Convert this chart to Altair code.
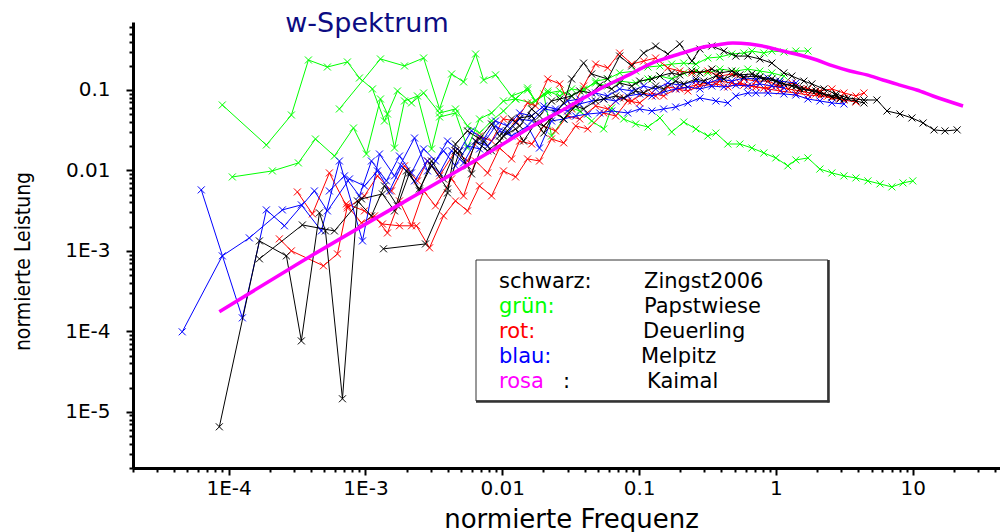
import altair as alt
import pandas as pd

# ---------------- data (normierte Frequenz, normierte Leistung) -------------
kaimal_f = [8.55e-5, 2.78e-4, 9.56e-3, 0.0167, 0.0295, 0.0515, 0.0898, 0.1196, 0.159, 0.2085, 0.278,
            0.3695, 0.484, 0.644, 0.858, 1.123, 1.496, 1.992, 2.608, 3.472, 4.62, 6.05, 8.06, 10.7, 14.05, 23.3]
kaimal_p = [1.75e-4, 5.97e-4, 0.0201, 0.0357, 0.0598, 0.103, 0.163, 0.210, 0.250, 0.288, 0.334,
            0.363, 0.385, 0.373, 0.343, 0.305, 0.272, 0.236, 0.199, 0.172, 0.154, 0.133, 0.115, 0.100, 0.0842, 0.0633]

# Zingst2006 (black)
b1_f = [8.55e-5, 1.678e-4, 2.643e-4, 3.40e-4, 4.61e-4, 5.10e-4, 6.79e-4, 8.74e-4, 1.106e-3, 1.377e-3, 1.714e-3, 2.099e-3,
        2.48e-3, 3.04e-3, 3.72e-3, 4.55e-3, 5.57e-3, 6.38e-3, 7.81e-3, 9.56e-3, 0.0109, 0.0134, 0.0164, 0.0201, 0.0229,
        0.0281, 0.0321, 0.0393, 0.0450, 0.0589, 0.0721, 0.0883, 0.108, 0.132, 0.162, 0.198, 0.243, 0.278, 0.340, 0.416,
        0.509, 0.623, 0.763, 0.934, 1.143, 1.307, 1.600, 1.831, 2.241, 2.743, 3.357, 4.396,
        5.47, 6.48, 8.06, 9.86, 11.9, 14.3, 17.2, 21.1]
b1_p = [6.5e-6, 1.33e-3, 8.67e-4, 7.6e-5, 2.97e-3, 1.77e-3, 1.45e-5, 4.18e-3, 2.72e-3, 6.42e-3, 3.62e-3, 9.31e-3,
        5.56e-3, 0.0131, 7.84e-3, 0.0175, 0.0114, 0.0232, 0.0175, 0.0232, 0.031, 0.0449, 0.0475, 0.0292, 0.0449,
        0.069, 0.137, 0.216, 0.158, 0.137, 0.264, 0.199, 0.288, 0.352, 0.280, 0.373, 0.229, 0.323, 0.352, 0.305,
        0.264, 0.264, 0.243, 0.216, 0.163, 0.149, 0.129, 0.119, 0.103, 0.0892, 0.0796, 0.0751,
        0.0751, 0.0548, 0.0503, 0.0449, 0.0389, 0.0319, 0.031, 0.0319]

b2_f = [1.678e-4, 3.46e-4, 5.93e-4, 9.35e-4, 1.331e-3, 1.630e-3, 1.995e-3,
        2.48e-3, 3.04e-3, 3.98e-3, 4.87e-3, 5.96e-3, 7.30e-3, 8.35e-3, 0.0102, 0.0125, 0.0143, 0.0175, 0.0201, 0.0245,
        0.0281, 0.0344, 0.0393, 0.0481, 0.0551, 0.0674, 0.0772, 0.0944, 0.108, 0.132, 0.151, 0.185, 0.212, 0.260, 0.297,
        0.364, 0.416, 0.509, 0.583, 0.713, 0.816, 0.998, 1.143, 1.398, 1.600, 1.959, 2.241, 2.743, 3.139, 3.842, 4.396]
b2_p = [7.96e-4, 2.1e-3, 1.77e-3, 4.43e-3, 5.1e-3, 3.14e-3, 9.86e-3,
        5.89e-3, 0.0114, 5.89e-3, 0.0175, 9.05e-3, 0.0232, 0.0175, 0.0268, 0.0328, 0.0232, 0.0389, 0.0357, 0.0518,
        0.0436, 0.0633, 0.0581, 0.073, 0.0773, 0.0842, 0.0796, 0.0972, 0.0918, 0.112, 0.103, 0.129, 0.119, 0.137, 0.129,
        0.149, 0.137, 0.158, 0.145, 0.149, 0.137, 0.129, 0.119, 0.112, 0.103, 0.0972, 0.0892, 0.0842, 0.0773, 0.073, 0.069]

b3_f = [1.354e-3, 2.747e-3, 3.98e-3, 4.55e-3, 5.57e-3, 6.82e-3, 8.35e-3, 9.56e-3, 0.0117, 0.0134, 0.0164, 0.0187,
        0.0229, 0.0263, 0.0321, 0.0368, 0.0450, 0.0515, 0.0630, 0.0721, 0.0883, 0.101, 0.124, 0.142, 0.173, 0.198,
        0.243, 0.278, 0.340, 0.389, 0.476, 0.545, 0.667, 0.763, 0.934, 1.068, 1.307, 1.496, 1.831, 2.095, 2.564, 2.934]
b3_p = [1.06e-3, 1.22e-3, 5.25e-3, 0.0213, 0.031, 0.0246, 0.0378, 0.0268, 0.0436, 0.0357, 0.0581, 0.0475,
        0.073, 0.0773, 0.0842, 0.0972, 0.0918, 0.115, 0.103, 0.122, 0.112, 0.129, 0.137, 0.149, 0.163, 0.154,
        0.172, 0.163, 0.182, 0.163, 0.172, 0.154, 0.158, 0.145, 0.137, 0.122, 0.112, 0.103, 0.0972, 0.0918, 0.0819, 0.0773]

# Deuerling (red)
r1_f = [3.18e-4, 4.095e-4, 5.45e-4, 7.38e-4, 9.83e-4, 1.224e-3, 1.55e-3, 1.929e-3, 2.401e-3, 2.84e-3, 3.48e-3,
        4.55e-3, 5.57e-3, 6.82e-3, 8.35e-3, 0.0102, 0.0125, 0.0153, 0.0175, 0.0215, 0.0263, 0.0321, 0.0393, 0.0481,
        0.0589, 0.0721, 0.0883, 0.108, 0.132, 0.162, 0.198, 0.243, 0.318, 0.389, 0.476, 0.583, 0.713, 0.873, 1.068,
        1.307, 1.712, 2.095, 2.564, 3.139, 3.842, 4.396]
r1_p = [5.4e-3, 2.88e-3, 9.31e-3, 3.42e-3, 4.82e-3, 8.55e-3, 5.56e-3, 0.0114, 7.41e-3, 0.0131, 8.55e-3,
        0.0175, 0.0131, 0.0268, 0.0232, 0.0436, 0.0412, 0.069, 0.0633, 0.137, 0.119, 0.0581, 0.112, 0.210,
        0.188, 0.288, 0.210, 0.229, 0.250, 0.188, 0.172, 0.163, 0.172, 0.149, 0.158, 0.137, 0.129, 0.129, 0.112,
        0.122, 0.103, 0.0972, 0.103, 0.0918, 0.0842, 0.0918]

r2_f = [2.349e-4, 2.875e-4, 4.93e-4, 6.24e-4, 7.38e-4, 9.35e-4, 1.164e-3, 1.448e-3, 1.773e-3, 2.170e-3, 2.66e-3,
        3.25e-3, 4.26e-3, 5.21e-3, 6.38e-3, 7.81e-3, 9.56e-3, 0.0117, 0.0134, 0.0164, 0.0201, 0.0245, 0.0300, 0.0368,
        0.0481, 0.0589, 0.0721, 0.0883, 0.108, 0.132, 0.162, 0.198, 0.260, 0.318, 0.389, 0.476, 0.583, 0.713, 0.873,
        1.068, 1.398, 1.712, 2.095, 2.564, 3.139, 3.842]
r2_p = [1.41e-3, 1.0e-3, 6.52e-4, 9.18e-4, 3.62e-3, 2.23e-3, 2.72e-3, 1.67e-3, 4.18e-3, 2.05e-3, 5.56e-3,
        3.62e-3, 7.84e-3, 4.82e-3, 0.0131, 9.31e-3, 0.019, 0.0139, 0.0232, 0.0213, 0.0357, 0.031, 0.0475, 0.0436,
        0.0633, 0.0581, 0.0796, 0.073, 0.0918, 0.0842, 0.109, 0.103, 0.115, 0.122, 0.129, 0.122, 0.115, 0.109, 0.103,
        0.0972, 0.0918, 0.0867, 0.0842, 0.0796, 0.0751, 0.0709]

r3_f = [7.26e-4, 9.83e-4, 1.331e-3, 1.773e-3, 2.361e-3, 2.938e-3, 3.72e-3, 4.55e-3, 5.57e-3, 6.82e-3, 8.35e-3,
        0.0102, 0.0125, 0.0153, 0.0187, 0.0229, 0.0281, 0.0344, 0.0421, 0.0551, 0.0674, 0.0825, 0.101, 0.124, 0.151,
        0.185, 0.227, 0.278, 0.364, 0.445, 0.545, 0.667, 0.816, 0.998, 1.222, 1.496, 1.959, 2.397, 2.934]
r3_p = [3.84e-3, 3.14e-3, 2.16e-3, 2.05e-3, 2.05e-3, 1.09e-3, 2.72e-3, 4.18e-3, 3.14e-3, 6.42e-3, 4.82e-3,
        9.86e-3, 8.3e-3, 0.0139, 0.0131, 0.0246, 0.022, 0.0357, 0.0328, 0.0518, 0.0475, 0.073, 0.069, 0.0918, 0.0842,
        0.103, 0.0972, 0.112, 0.119, 0.109, 0.122, 0.112, 0.106, 0.112, 0.103, 0.0972, 0.0892, 0.0842, 0.0796]

# Melpitz (blue)
l1_f = [4.58e-5, 8.99e-5, 1.417e-4, 2.47e-4, 3.40e-4, 4.765e-4, 6.45e-4, 9.51e-4, 1.266e-3, 1.630e-3, 2.283e-3,
        2.84e-3, 3.72e-3, 4.55e-3, 5.57e-3, 6.82e-3, 8.93e-3, 0.0109, 0.0134, 0.0164, 0.0201, 0.0245, 0.0300, 0.0368,
        0.0481, 0.0589, 0.0721, 0.0883, 0.108, 0.132, 0.162, 0.198, 0.260, 0.318, 0.389, 0.476, 0.583, 0.713, 0.873,
        1.068, 1.398]
l1_p = [9.86e-5, 8.67e-4, 1.45e-3, 3.23e-3, 3.73e-3, 1.77e-3, 0.0131, 1.33e-3, 0.016, 8.55e-3, 0.0253,
        9.86e-3, 0.0175, 0.0114, 0.0201, 0.0185, 0.0357, 0.0292, 0.0436, 0.0412, 0.0581, 0.0548, 0.073, 0.0773,
        0.0918, 0.0842, 0.103, 0.0972, 0.112, 0.103, 0.122, 0.115, 0.129, 0.122, 0.137, 0.129, 0.141, 0.137, 0.141,
        0.129, 0.122]

l2_f = [6.31e-5, 1.26e-4, 1.887e-4, 2.555e-4, 4.235e-4, 5.27e-4, 7.64e-4, 9.83e-4, 1.224e-3, 1.498e-3, 1.834e-3,
        2.283e-3, 2.84e-3, 3.48e-3, 4.26e-3, 5.21e-3, 6.38e-3, 7.81e-3, 9.56e-3, 0.0117, 0.0153, 0.0187, 0.0229,
        0.0281, 0.0344, 0.0421, 0.0515, 0.0630, 0.0825, 0.101, 0.124, 0.151, 0.185, 0.227, 0.278, 0.364, 0.445,
        0.509, 0.623, 0.713, 0.873, 1.143, 1.398, 1.712, 2.095, 2.564, 3.139]
l2_p = [5.73e-3, 1.47e-4, 3.23e-3, 2.05e-3, 5.56e-3, 3.14e-3, 7.84e-3, 6.42e-3, 9.86e-3, 5.56e-3, 0.0114,
        7.41e-3, 0.0131, 9.31e-3, 0.0175, 0.0124, 0.0232, 0.0201, 0.031, 0.0268, 0.0357, 0.019, 0.0412,
        0.0436, 0.0475, 0.0503, 0.0518, 0.0548, 0.0518, 0.0581, 0.0548, 0.0581, 0.0615, 0.069, 0.0796, 0.073, 0.069,
        0.0842, 0.0918, 0.0918, 0.0918, 0.0892, 0.0867, 0.0773, 0.073, 0.069, 0.067]

l3_f = [5.45e-4, 7.02e-4, 9.04e-4, 1.106e-3, 1.424e-3, 1.773e-3, 2.170e-3, 2.66e-3, 3.25e-3, 3.98e-3, 4.87e-3,
        5.96e-3, 7.30e-3, 8.93e-3, 0.0109, 0.0134, 0.0164, 0.0201, 0.0245, 0.0300, 0.0368, 0.0450, 0.0551, 0.0674,
        0.0825, 0.101, 0.124, 0.151, 0.185, 0.227, 0.278, 0.340, 0.416, 0.509, 0.623, 0.763, 0.934, 1.143]
l3_p = [5.56e-3, 8.55e-3, 4.82e-3, 0.0131, 7.41e-3, 0.0151, 9.31e-3, 0.0185, 0.0131, 0.0232, 0.0175,
        0.031, 0.0246, 0.0412, 0.0357, 0.0518, 0.0475, 0.0633, 0.0581, 0.0548, 0.067, 0.073, 0.0773, 0.073,
        0.0842, 0.0892, 0.0842, 0.0944, 0.103, 0.109, 0.103, 0.112, 0.109, 0.115, 0.112, 0.119, 0.112, 0.106]

# Papstwiese (green)
g1_f = [8.99e-5, 1.887e-4, 2.875e-4, 3.83e-4, 5.27e-4, 7.38e-4, 9.04e-4, 1.125e-3, 1.377e-3, 1.714e-3, 2.170e-3,
        2.66e-3, 3.48e-3, 4.55e-3, 5.57e-3, 6.82e-3, 8.35e-3, 0.0102, 0.0125, 0.0164, 0.0201, 0.0229, 0.0281, 0.0321,
        0.0368, 0.0450, 0.0551, 0.0630, 0.0772, 0.0944, 0.116, 0.142, 0.173, 0.212, 0.260, 0.318, 0.364, 0.445, 0.545,
        0.667, 0.816, 0.998, 1.222, 1.398, 1.712, 2.095, 2.564, 3.139, 3.842, 4.702, 5.76, 7.04, 8.48, 10.0]
g1_p = [0.0651, 0.0207, 0.0489, 0.236, 0.193, 0.223, 0.141, 0.103, 0.0412, 0.0972, 0.069,
        0.0918, 0.0518, 0.0581, 0.0357, 0.0292, 0.0412, 0.0548, 0.0773, 0.069, 0.0892, 0.0268, 0.0436, 0.0598,
        0.0548, 0.0412, 0.0328, 0.0598, 0.0436, 0.0378, 0.0347, 0.0449, 0.0301, 0.040, 0.0328, 0.0268, 0.0292, 0.0213,
        0.0213, 0.019, 0.0165, 0.0143, 0.0114, 0.0135, 0.0143, 0.0104, 9.31e-3, 8.55e-3, 8.07e-3, 7.41e-3, 6.8e-3,
        6.24e-3, 7.0e-3, 7.41e-3]

g2_f = [6.45e-4, 1.287e-3, 1.929e-3, 2.66e-3, 3.48e-3, 4.26e-3, 5.21e-3, 6.38e-3, 7.30e-3, 8.93e-3, 0.0117, 0.0153,
        0.0175, 0.0215, 0.0263, 0.0321, 0.0393, 0.0481, 0.0589, 0.0721, 0.0944, 0.116, 0.142, 0.173, 0.212, 0.260,
        0.318, 0.389, 0.476, 0.583, 0.667, 0.816, 0.934, 1.143, 1.398, 1.712]
g2_p = [0.0581, 0.243, 0.199, 0.25, 0.0581, 0.158, 0.126, 0.28, 0.133, 0.154, 0.0842, 0.1,
        0.073, 0.0972, 0.0842, 0.103, 0.0972, 0.129, 0.137, 0.163, 0.172, 0.193, 0.199, 0.21, 0.216, 0.21,
        0.25, 0.257, 0.28, 0.288, 0.305, 0.288, 0.305, 0.297, 0.305, 0.305]

g3_f = [1.064e-4, 2.088e-4, 3.235e-4, 4.31e-4, 5.93e-4, 8.17e-4, 1.017e-3, 1.287e-3, 1.448e-3, 1.630e-3, 1.929e-3,
        2.401e-3, 3.04e-3, 3.48e-3, 4.55e-3, 5.57e-3, 6.82e-3, 8.35e-3, 0.0102, 0.0125, 0.0153, 0.0175, 0.0215,
        0.0263, 0.0321, 0.0393, 0.0481, 0.0589, 0.0721, 0.0944, 0.116, 0.142, 0.173, 0.212, 0.260, 0.318, 0.389,
        0.509, 0.623, 0.763, 0.934, 1.143]
g3_p = [8.3e-3, 9.86e-3, 0.0124, 0.0246, 0.0151, 0.0337, 0.016, 0.0773, 0.0503, 0.019, 0.073,
        0.0842, 0.0185, 0.0462, 0.0518, 0.019, 0.0436, 0.0518, 0.073, 0.0773, 0.106, 0.073, 0.0918,
        0.0972, 0.0842, 0.103, 0.122, 0.112, 0.129, 0.122, 0.137, 0.149, 0.137, 0.163, 0.172, 0.163, 0.182,
        0.172, 0.182, 0.172, 0.163, 0.149]

x_ticks = [m * 10.0 ** k for k in range(-5, 2) for m in range(1, 10) if 2e-5 <= m * 10.0 ** k <= 43.4]
y_ticks = [m * 10.0 ** k for k in range(-6, 0) for m in range(1, 10) if 2e-6 <= m * 10.0 ** k <= 0.7]

# ---------------- styling ----------------
GREEN, RED, BLUE, BLACK, PINK = "#00ff00", "#ff0000", "#0000ff", "#000000", "#ff00ff"
X_MARK = "M-1,-1L1,1M-1,1L1,-1"
FONT = "DejaVu Sans"

MAJOR = "abs(log(datum.value)/LN10 - round(log(datum.value)/LN10)) < 0.01"
EXP = "round(log(datum.value)/LN10)"
label_expr = (f"({MAJOR}) ? ({EXP} <= -3 ? '1E' + {EXP} : {EXP} == -2 ? '0.01' : "
              f"{EXP} == -1 ? '0.1' : {EXP} == 0 ? '1' : '10') : ''")
tick_size = {"condition": {"test": MAJOR, "value": 7}, "value": 4}

x_scale = alt.Scale(type="log", domain=[2e-5, 43.4], nice=False)
y_scale = alt.Scale(type="log", domain=[2e-6, 0.7], nice=False)

common_axis = dict(labelExpr=label_expr, tickSize=tick_size, tickWidth=2, tickColor="black",
                   domainColor="black", domainWidth=3, labelFont=FONT, labelFontSize=20,
                   labelColor="black", labelFlush=False, labelOverlap=False, grid=False,
                   titleFontWeight="normal", titleColor="black")

x_axis = alt.Axis(values=x_ticks, labelPadding=3, title="normierte Frequenz", titleFont=FONT,
                  titleFontSize=26, titleX=438, titleY=59, titleBaseline="alphabetic",
                  titleAlign="center", **common_axis)
y_axis = alt.Axis(values=y_ticks, labelPadding=16, title="normierte Leistung",
                  titleFont="Liberation Sans Narrow, DejaVu Sans Condensed, sans-serif",
                  titleFontSize=21, titleX=-110, titleY=239, titleAngle=270,
                  titleAlign="center", titleBaseline="middle", **common_axis)


def frame(runs):
    parts = []
    for name, f, p in runs:
        parts.append(pd.DataFrame({"run": name, "f": f, "p": p, "k": list(range(len(f)))}))
    return pd.concat(parts, ignore_index=True)


def site_layers(df, color):
    base = alt.Chart(df).encode(
        x=alt.X("f:Q", scale=x_scale, axis=x_axis),
        y=alt.Y("p:Q", scale=y_scale, axis=y_axis),
    )
    lines = base.mark_line(color=color, strokeWidth=1).encode(detail="run:N", order="k:Q")
    pts = base.mark_point(shape=X_MARK, filled=False, size=49, strokeWidth=1, color=color, opacity=1)
    return [lines, pts]


green_df = frame([("g1", g1_f, g1_p), ("g2", g2_f, g2_p), ("g3", g3_f, g3_p)])
red_df = frame([("r1", r1_f, r1_p), ("r2", r2_f, r2_p), ("r3", r3_f, r3_p)])
blue_df = frame([("l1", l1_f, l1_p), ("l2", l2_f, l2_p), ("l3", l3_f, l3_p)])
black_df = frame([("b1", b1_f, b1_p), ("b2", b2_f, b2_p), ("b3", b3_f, b3_p)])
kaimal_df = pd.DataFrame({"f": kaimal_f, "p": kaimal_p})

layers = []
layers += site_layers(green_df, GREEN)
layers += site_layers(red_df, RED)
layers += site_layers(blue_df, BLUE)
layers += site_layers(black_df, BLACK)
layers.append(
    alt.Chart(kaimal_df).mark_line(color=PINK, strokeWidth=3.5, interpolate="monotone").encode(
        x=alt.X("f:Q", scale=x_scale, axis=x_axis), y=alt.Y("p:Q", scale=y_scale, axis=y_axis))
)

ann = alt.Chart(pd.DataFrame({"z": [0]}))

# title
layers.append(ann.mark_text(text="w-Spektrum", font=FONT, fontSize=27, color="#0c0c82",
                            align="center", baseline="alphabetic").encode(x=alt.value(234), y=alt.value(10)))

# legend box
layers.append(ann.mark_rect(fill="white", stroke="#333333", strokeWidth=1).encode(
    x=alt.value(343), x2=alt.value(695), y=alt.value(238), y2=alt.value(379)))
layers.append(ann.mark_rule(color="#333333", strokeWidth=2.5).encode(
    x=alt.value(695.5), y=alt.value(238), y2=alt.value(380.5)))
layers.append(ann.mark_rule(color="#333333", strokeWidth=2.5).encode(
    x=alt.value(343), x2=alt.value(696.5), y=alt.value(379.5)))

legend_rows = [
    ("schwarz:", BLACK, "Zingst2006", 511),
    ("grün:", GREEN, "Papstwiese", 511),
    ("rot:", RED, "Deuerling", 510),
    ("blau:", BLUE, "Melpitz", 508),
    ("rosa", PINK, "Kaimal", 514),
]
LEG_FS = 21
for i, (lab, col, name, xname) in enumerate(legend_rows):
    yb = 266 + 25 * i
    layers.append(ann.mark_text(text=lab, font=FONT, fontSize=LEG_FS, color=col, align="left",
                                baseline="alphabetic").encode(x=alt.value(366), y=alt.value(yb)))
    layers.append(ann.mark_text(text=name, font=FONT, fontSize=LEG_FS, color="black", align="left",
                                baseline="alphabetic").encode(x=alt.value(xname), y=alt.value(yb)))
layers.append(ann.mark_text(text=":", font=FONT, fontSize=LEG_FS, color="black", align="left",
                            baseline="alphabetic").encode(x=alt.value(430), y=alt.value(366)))

chart = alt.layer(*layers).properties(
    width=867, height=446,
    autosize=alt.AutoSizeParams(type="none"),
    padding={"left": 133, "top": 22, "right": 0, "bottom": 64},
    background="white",
).configure_view(stroke=None)

chart.save("out.html", embed_options={"renderer": "svg", "actions": False})
